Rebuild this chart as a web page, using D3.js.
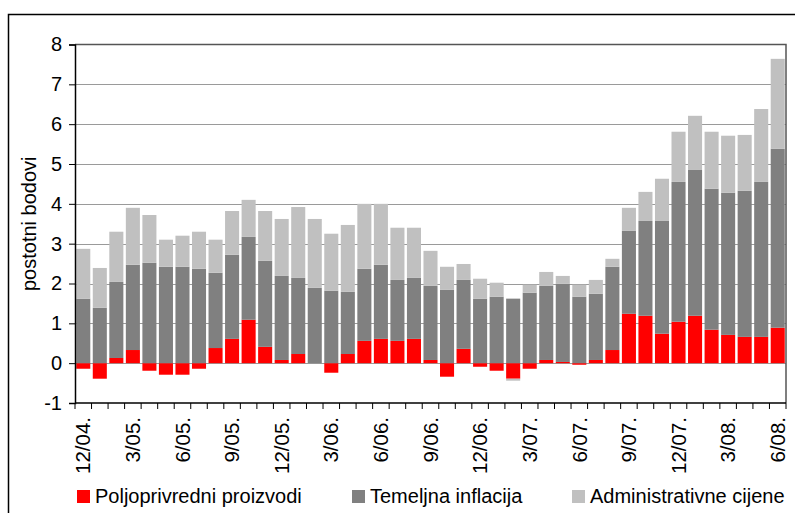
<!DOCTYPE html>
<html>
<head>
<meta charset="utf-8">
<script src="https://cdn.jsdelivr.net/npm/d3@7"></script>
<style>
  body { margin: 0; background: #fff; }
  svg { display: block; font-family: "Liberation Sans", Arial, sans-serif; }
</style>
</head>
<body>
<div id="chart"></div>
<script>
// mjeseci 12/04 - 6/08
var months = ['12/04','1/05','2/05','3/05','4/05','5/05','6/05','7/05','8/05','9/05','10/05','11/05',
  '12/05','1/06','2/06','3/06','4/06','5/06','6/06','7/06','8/06','9/06','10/06','11/06',
  '12/06','1/07','2/07','3/07','4/07','5/07','6/07','7/07','8/07','9/07','10/07','11/07',
  '12/07','1/08','2/08','3/08','4/08','5/08','6/08'];

var tickLabels = ['12/04.','3/05.','6/05.','9/05.','12/05.','3/06.','6/06.','9/06.','12/06.',
  '3/07.','6/07.','9/07.','12/07.','3/08.','6/08.'];

var poljoprivredni = [-0.14,-0.39,0.13,0.33,-0.19,-0.29,-0.29,-0.14,0.38,0.61,1.09,0.41,
  0.08,0.23,0,-0.24,0.23,0.56,0.61,0.56,0.61,0.08,-0.34,0.36,
  -0.09,-0.19,-0.39,-0.14,0.08,0.03,-0.04,0.08,0.33,1.24,1.19,0.74,
  1.04,1.19,0.84,0.71,0.66,0.66,0.89];

var temeljna = [1.62,1.39,1.91,2.14,2.52,2.42,2.42,2.37,1.89,2.11,2.08,2.16,
  2.11,1.91,1.89,1.82,1.56,1.81,1.86,1.53,1.53,1.86,1.84,1.73,
  1.62,1.67,1.62,1.77,1.86,1.96,1.67,1.66,2.09,2.08,2.38,2.83,
  3.51,3.66,3.54,3.57,3.67,3.89,4.49];

var administrativne = [1.25,1.00,1.26,1.43,1.20,0.68,0.78,0.93,0.83,1.10,0.93,1.25,
  1.43,1.78,1.73,1.43,1.68,1.63,1.53,1.31,1.26,0.88,0.58,0.40,
  0.50,0.35,-0.05,0.20,0.35,0.20,0.30,0.35,0.20,0.58,0.73,1.06,
  1.26,1.36,1.43,1.43,1.40,1.83,2.26];

var seriesNames = ['Poljoprivredni proizvodi','Temeljna inflacija','Administrativne cijene'];
var seriesColors = ['#ff0000','#808080','#c0c0c0'];
var yTicks = [-1,0,1,2,3,4,5,6,7,8];

var width = 795, height = 513;
var plotLeft = 75, plotRight = 786, plotTop = 44.5, plotBottom = 403;

var rows = months.map(function(m, i){
  return { m: m, a: poljoprivredni[i], b: temeljna[i], c: administrativne[i] };
});

var stacked = d3.stack()
  .keys(['a','b','c'])
  .offset(d3.stackOffsetDiverging)(rows);

var x = d3.scaleBand()
  .domain(months)
  .range([plotLeft, plotRight])
  .paddingInner(0.15)
  .paddingOuter(0.075);

var y = d3.scaleLinear()
  .domain([-1, 8])
  .range([plotBottom, plotTop]);

var svg = d3.select('#chart')
  .append('svg')
  .attr('width', width)
  .attr('height', height);

// okvir
svg.append('rect')
  .attr('x', 8.5)
  .attr('y', 14.5)
  .attr('width', 800)
  .attr('height', 520)
  .attr('fill', 'none')
  .attr('stroke', '#000')
  .attr('stroke-width', 1.5);

// mreža
svg.append('g')
  .selectAll('line')
  .data(yTicks.filter(function(t){ return t > -1 && t < 8; }))
  .enter().append('line')
  .attr('x1', plotLeft)
  .attr('x2', plotRight)
  .attr('y1', function(d){ return Math.round(y(d)) + 0.5; })
  .attr('y2', function(d){ return Math.round(y(d)) + 0.5; })
  .attr('stroke', '#9a9a9a')
  .attr('stroke-width', 1.2);

// stupci
svg.append('g')
  .selectAll('g')
  .data(stacked)
  .enter().append('g')
  .attr('fill', function(d, i){ return seriesColors[i]; })
  .selectAll('rect')
  .data(function(d){ return d; })
  .enter().append('rect')
  .attr('x', function(d){ return x(d.data.m); })
  .attr('width', x.bandwidth())
  .attr('y', function(d){ return y(Math.max(d[0], d[1])); })
  .attr('height', function(d){ return Math.abs(y(d[0]) - y(d[1])); });

// rub plota (gore, desno)
svg.append('path')
  .attr('d', 'M' + plotLeft + ',' + plotTop + 'H' + plotRight + 'V' + plotBottom)
  .attr('fill', 'none')
  .attr('stroke', '#555')
  .attr('stroke-width', 1.5);

// y os
var yAxis = svg.append('g')
  .attr('transform', 'translate(' + plotLeft + ',0)')
  .call(d3.axisLeft(y).tickValues(yTicks).tickSize(6).tickPadding(7).tickFormat(function(d){ return String(d); }));
yAxis.select('.domain').attr('stroke', '#000').attr('stroke-width', 1.5);
yAxis.selectAll('.tick line').attr('stroke', '#000');
yAxis.selectAll('text')
  .attr('font-size', 20)
  .attr('font-family', '"Liberation Sans", Arial, sans-serif')
  .attr('fill', '#000');

// x os na -1
svg.append('line')
  .attr('x1', plotLeft)
  .attr('x2', plotRight)
  .attr('y1', plotBottom)
  .attr('y2', plotBottom)
  .attr('stroke', '#000')
  .attr('stroke-width', 1.5);

var step = x.step();
svg.append('g')
  .selectAll('line')
  .data(d3.range(months.length + 1))
  .enter().append('line')
  .attr('x1', function(i){ return x(months[0]) - step * 0.075 + i * step; })
  .attr('x2', function(i){ return x(months[0]) - step * 0.075 + i * step; })
  .attr('y1', plotBottom)
  .attr('y2', plotBottom + 6)
  .attr('stroke', '#000');

svg.append('g')
  .selectAll('text')
  .data(tickLabels)
  .enter().append('text')
  .attr('transform', function(d, i){
    var cx = x(months[i * 3]) + x.bandwidth() / 2;
    return 'translate(' + cx + ',' + (plotBottom + 14) + ') rotate(-90)';
  })
  .attr('dy', '0.35em')
  .attr('text-anchor', 'end')
  .attr('font-size', 20.5)
  .text(function(d){ return d; });

// naslov y osi
svg.append('text')
  .attr('transform', 'translate(36,' + ((plotTop + plotBottom) / 2) + ') rotate(-90)')
  .attr('text-anchor', 'middle')
  .attr('font-size', 20)
  .text('postotni bodovi');

// legenda
var legendX = [77, 352, 572];
var legend = svg.append('g')
  .selectAll('g')
  .data(seriesNames)
  .enter().append('g')
  .attr('transform', function(d, i){ return 'translate(' + legendX[i] + ',490)'; });

legend.append('rect')
  .attr('width', 13)
  .attr('height', 13)
  .attr('fill', function(d, i){ return seriesColors[i]; });

legend.append('text')
  .attr('x', 18)
  .attr('y', 13)
  .attr('font-size', 20)
  .text(function(d){ return d; });
</script>
</body>
</html>
